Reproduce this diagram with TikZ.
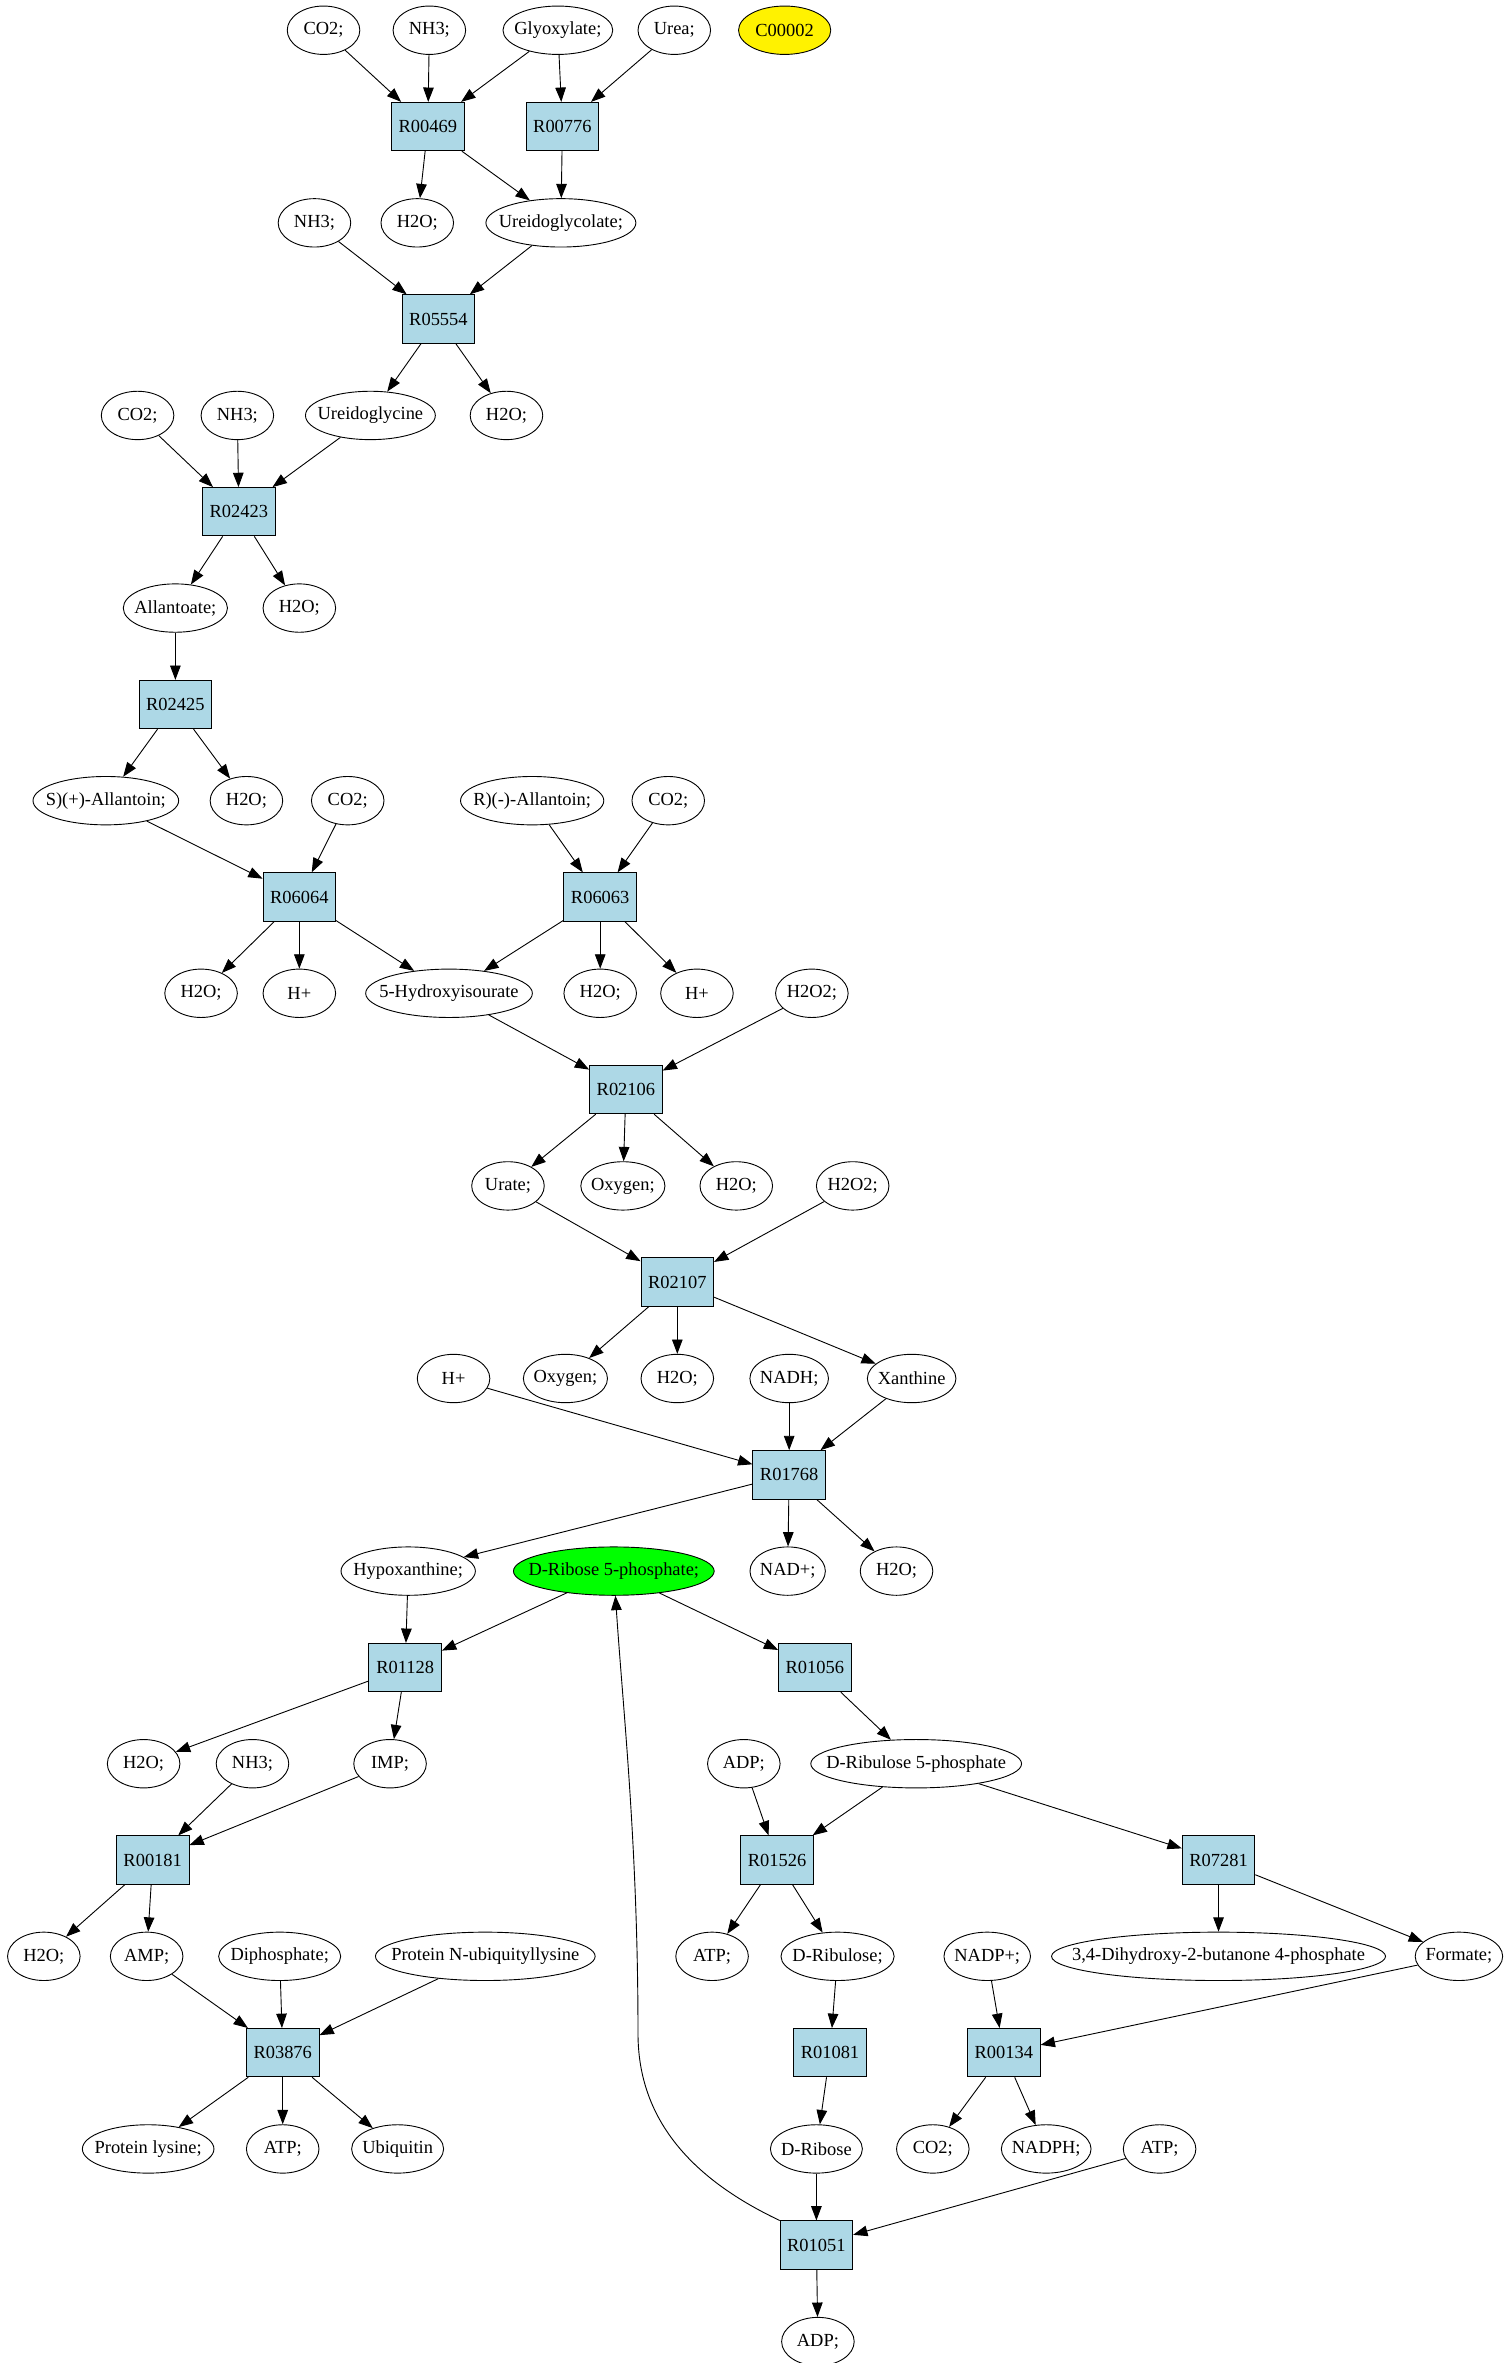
\documentclass[tikz,border=0pt]{standalone}
\usepackage{fontspec}
\setmainfont{Liberation Serif}
\usetikzlibrary{arrows.meta,shapes.geometric}
\definecolor{lightblue}{HTML}{ADD8E6}
\tikzset{
    >={Triangle[length=9.5pt,width=7pt]}, % filled heads
    every node/.style={font=\fontsize{12.2}{14}\selectfont, line width=0.6pt},
    met/.style={draw, ellipse, minimum width=48, minimum height=32, inner ysep=0pt,
        inner xsep={3.5pt-0.115*\the\wd\pgfnodeparttextbox}}, % compound, flat ellipse
    rxn/.style={draw, rectangle, fill=lightblue, minimum width=48, minimum height=32}, % reaction
}

\begin{document}
\begin{tikzpicture}[x=1pt,y=-1pt,line width=0.6pt]
  \useasboundingbox (0,0) rectangle (1000,1563);

  % rank 0-3
  \node[met] (co2a) at (214,20) {CO2;};
  \node[met] (nh3a) at (284,20) {NH3;};
  \node[met] (glyox) at (369,20) {Glyoxylate;};
  \node[met] (urea) at (446,20) {Urea;};
  \node[met,fill=yellow,minimum width=61] (c00002) at (519,20) {C00002};
  \node[rxn] (r00469) at (283,83.7) {R00469};
  \node[rxn] (r00776) at (372,83.7) {R00776};
  \node[met] (nh3b) at (208,147.4) {NH3;};
  \node[met] (h2oa) at (276,147.4) {H2O;};
  \node[met] (ugcol) at (371,147.4) {Ureidoglycolate;};
  \node[rxn] (r05554) at (290,211) {R05554};

  % rank 4-7
  \node[met] (co2b) at (91,274.8) {CO2;};
  \node[met] (nh3c) at (157,274.8) {NH3;};
  \node[met] (ugcin) at (245,274.8) {Ureidoglycine};
  \node[met] (h2ob) at (335,274.8) {H2O;};
  \node[rxn] (r02423) at (158,338.5) {R02423};
  \node[met] (allan) at (116,402.2) {Allantoate;};
  \node[met] (h2oc) at (198,402.2) {H2O;};
  \node[rxn] (r02425) at (116,466) {R02425};

  % rank 8-11
  \node[met] (sallt) at (70,529.6) {S)(+)-Allantoin;};
  \node[met] (h2od) at (163,529.6) {H2O;};
  \node[met] (co2c) at (230,529.6) {CO2;};
  \node[met] (rallt) at (352,529.6) {R)(-)-Allantoin;};
  \node[met] (co2d) at (442,529.6) {CO2;};
  \node[rxn] (r06064) at (198,593.3) {R06064};
  \node[rxn] (r06063) at (397,593.3) {R06063};
  \node[met] (h2oe) at (133,657) {H2O;};
  \node[met] (hpa) at (198,657) {H+};
  \node[met] (hiu) at (297,657) {5-Hydroxyisourate};
  \node[met] (h2of) at (397,657) {H2O;};
  \node[met] (hpb) at (461,657) {H+};
  \node[met] (h2o2a) at (537,657) {H2O2;};
  \node[rxn] (r02106) at (414,720.7) {R02106};

  % rank 12-15
  \node[met] (urate) at (336,784.4) {Urate;};
  \node[met] (oxya) at (412,784.4) {Oxygen;};
  \node[met] (h2og) at (487,784.4) {H2O;};
  \node[met] (h2o2b) at (564,784.4) {H2O2;};
  \node[rxn] (r02107) at (448,848) {R02107};
  \node[met] (hpc) at (300,911.8) {H+};
  \node[met] (oxyb) at (374,911.8) {Oxygen;};
  \node[met] (h2oh) at (448,911.8) {H2O;};
  \node[met] (nadh) at (522,911.8) {NADH;};
  \node[met] (xan) at (603,911.8) {Xanthine};
  \node[rxn] (r01768) at (522,975.5) {R01768};

  % rank 16-19
  \node[met] (hypox) at (270,1039.2) {Hypoxanthine;};
  \node[met,fill=green] (drib5p) at (406,1039.2) {D-Ribose 5-phosphate;};
  \node[met] (nad) at (521,1039.2) {NAD+;};
  \node[met] (h2oi) at (593,1039.2) {H2O;};
  \node[rxn] (r01128) at (268,1103) {R01128};
  \node[rxn] (r01056) at (539,1103) {R01056};
  \node[met] (h2oj) at (95,1166.6) {H2O;};
  \node[met] (nh3d) at (167,1166.6) {NH3;};
  \node[met] (imp) at (258,1166.6) {IMP;};
  \node[met] (adpa) at (492,1166.6) {ADP;};
  \node[met] (dru5p) at (606,1166.6) {D-Ribulose 5-phosphate};
  \node[rxn] (r00181) at (101,1230.3) {R00181};
  \node[rxn] (r01526) at (514,1230.3) {R01526};
  \node[rxn] (r07281) at (806,1230.3) {R07281};

  % rank 20-24
  \node[met] (h2ok) at (29,1294) {H2O;};
  \node[met] (amp) at (97,1294) {AMP;};
  \node[met] (diph) at (185,1294) {Diphosphate;};
  \node[met] (protub) at (321,1294) {Protein N-ubiquityllysine};
  \node[met] (atpa) at (471,1294) {ATP;};
  \node[met] (drul) at (554,1294) {D-Ribulose;};
  \node[met] (nadpp) at (653,1294) {NADP+;};
  \node[met] (dhbp) at (806,1294) {3,4-Dihydroxy-2-butanone 4-phosphate};
  \node[met] (form) at (965,1294) {Formate;};
  \node[rxn] (r03876) at (187,1357.7) {R03876};
  \node[rxn] (r01081) at (549,1357.7) {R01081};
  \node[rxn] (r00134) at (664,1357.7) {R00134};
  \node[met] (protlys) at (98,1421.4) {Protein lysine;};
  \node[met] (atpb) at (187,1421.4) {ATP;};
  \node[met] (ubiq) at (263,1421.4) {Ubiquitin};
  \node[met] (drib) at (540,1421.4) {D-Ribose};
  \node[met] (co2e) at (617,1421.4) {CO2;};
  \node[met] (nadph) at (692,1421.4) {NADPH;};
  \node[met] (atpc) at (767,1421.4) {ATP;};
  \node[rxn] (r01051) at (540,1485) {R01051};
  \node[met] (adpb) at (541,1548.8) {ADP;};

  \path[->]
    (co2a) edge (r00469)
    (nh3a) edge (r00469)
    (glyox) edge (r00469)
    (glyox) edge (r00776)
    (urea) edge (r00776)
    (r00469) edge (h2oa)
    (r00469) edge (ugcol)
    (r00776) edge (ugcol)
    (nh3b) edge (r05554)
    (ugcol) edge (r05554)
    (r05554) edge (ugcin)
    (r05554) edge (h2ob)
    (co2b) edge (r02423)
    (nh3c) edge (r02423)
    (ugcin) edge (r02423)
    (r02423) edge (allan)
    (r02423) edge (h2oc)
    (allan) edge (r02425)
    (r02425) edge (sallt)
    (r02425) edge (h2od)
    (sallt) edge (r06064)
    (co2c) edge (r06064)
    (rallt) edge (r06063)
    (co2d) edge (r06063)
    (r06064) edge (h2oe)
    (r06064) edge (hpa)
    (r06064) edge (hiu)
    (r06063) edge (hiu)
    (r06063) edge (h2of)
    (r06063) edge (hpb)
    (hiu) edge (r02106)
    (h2o2a) edge (r02106)
    (r02106) edge (urate)
    (r02106) edge (oxya)
    (r02106) edge (h2og)
    (urate) edge (r02107)
    (h2o2b) edge (r02107)
    (r02107) edge (oxyb)
    (r02107) edge (h2oh)
    (r02107) edge (xan)
    (hpc) edge (r01768)
    (nadh) edge (r01768)
    (xan) edge (r01768)
    (r01768) edge (hypox)
    (r01768) edge (nad)
    (r01768) edge (h2oi)
    (hypox) edge (r01128)
    (drib5p) edge (r01128)
    (drib5p) edge (r01056)
    (r01128) edge (h2oj)
    (r01128) edge (imp)
    (r01056) edge (dru5p)
    (nh3d) edge (r00181)
    (imp) edge (r00181)
    (adpa) edge (r01526)
    (dru5p) edge (r01526)
    (dru5p) edge (r07281)
    (r00181) edge (h2ok)
    (r00181) edge (amp)
    (amp) edge (r03876)
    (diph) edge (r03876)
    (protub) edge (r03876)
    (r01526) edge (atpa)
    (r01526) edge (drul)
    (r07281) edge (dhbp)
    (r07281) edge (form)
    (drul) edge (r01081)
    (nadpp) edge (r00134)
    (form) edge (r00134)
    (r03876) edge (protlys)
    (r03876) edge (atpb)
    (r03876) edge (ubiq)
    (r01081) edge (drib)
    (r00134) edge (co2e)
    (r00134) edge (nadph)
    (drib) edge (r01051)
    (atpc) edge (r01051)
    (r01051) edge (adpb);
  % long way back up
  \draw[->] (r01051.north west) .. controls (455,1440) and (422,1400) .. (422,1345)
    .. controls (422,1220) and (412,1130) .. (drib5p);
\end{tikzpicture}
\end{document}
